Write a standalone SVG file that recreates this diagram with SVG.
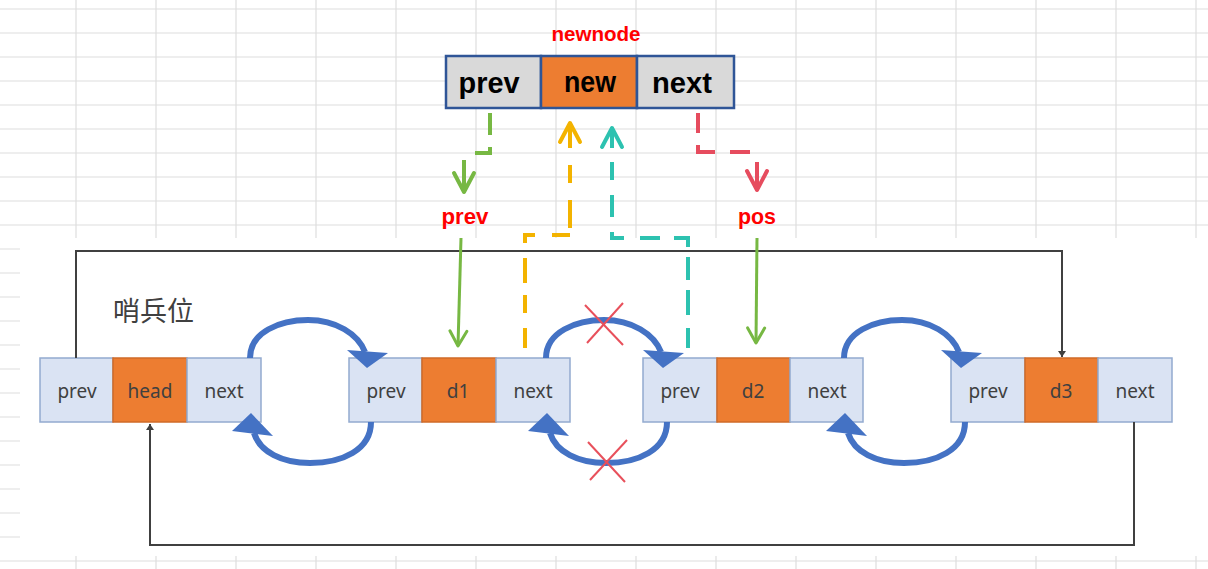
<svg xmlns="http://www.w3.org/2000/svg" width="1208" height="569" viewBox="0 0 1208 569">
<style>
.grid line{stroke:#dedede;stroke-width:1.2}
.cell{fill:#DAE3F3;stroke:#93AACF;stroke-width:1.5}
.data{fill:#ED7D31;stroke:#CF6B28;stroke-width:1.5}
.lbl{font-family:"Noto Sans","Noto Sans CJK SC",sans-serif;font-size:19px;fill:#404040;text-anchor:middle}
.tcell{fill:#D9D9D9;stroke:#2F5597;stroke-width:2.5}
.tdata{fill:#ED7D31;stroke:#2F5597;stroke-width:2.5}
.tlbl{font-family:"Liberation Sans",Arial,sans-serif;font-weight:bold;font-size:30px;fill:#000;text-anchor:middle}
.red{font-family:"Liberation Sans",Arial,sans-serif;font-weight:bold;fill:#FF0000;text-anchor:middle}
.blue{fill:none;stroke:#4472C4;stroke-width:6}
.bhead{fill:#4472C4}
.blk{fill:none;stroke:#404040;stroke-width:2}
.dash{fill:none;stroke-width:4}
.cross{stroke:#E8505B;stroke-width:2}
</style>
<defs>
<marker id="mblk" markerUnits="userSpaceOnUse" markerWidth="8" markerHeight="8" refX="6" refY="4" orient="auto"><path d="M0,0 L6,4 L0,8 z" fill="#404040"/></marker>
<marker id="mgreen" markerUnits="userSpaceOnUse" viewBox="-22 -14 26 28" markerWidth="26" markerHeight="28" refX="0" refY="0" orient="auto" overflow="visible"><path d="M-19,-10 L0,0 L-19,10" fill="none" stroke="#77B843" stroke-width="4" stroke-linecap="round" stroke-linejoin="round"/></marker>
<marker id="mgreen2" markerUnits="userSpaceOnUse" viewBox="-22 -14 26 28" markerWidth="26" markerHeight="28" refX="0" refY="0" orient="auto" overflow="visible"><path d="M-15,-8.5 L0,0 L-15,8.5" fill="none" stroke="#77B843" stroke-width="3" stroke-linecap="round" stroke-linejoin="round"/></marker>
<marker id="mred" markerUnits="userSpaceOnUse" viewBox="-22 -14 26 28" markerWidth="26" markerHeight="28" refX="0" refY="0" orient="auto" overflow="visible"><path d="M-19,-10 L0,0 L-19,10" fill="none" stroke="#E64C5E" stroke-width="4" stroke-linecap="round" stroke-linejoin="round"/></marker>
<marker id="myellow" markerUnits="userSpaceOnUse" viewBox="-22 -14 26 28" markerWidth="26" markerHeight="28" refX="0" refY="0" orient="auto" overflow="visible"><path d="M-19,-10 L0,0 L-19,10" fill="none" stroke="#F3B300" stroke-width="4" stroke-linecap="round" stroke-linejoin="round"/></marker>
<marker id="mteal" markerUnits="userSpaceOnUse" viewBox="-22 -14 26 28" markerWidth="26" markerHeight="28" refX="0" refY="0" orient="auto" overflow="visible"><path d="M-19,-10 L0,0 L-19,10" fill="none" stroke="#2DC2B0" stroke-width="4" stroke-linecap="round" stroke-linejoin="round"/></marker>
</defs>
<rect width="1208" height="569" fill="#fff"/>
<g class="grid">
<line x1="76" y1="0" x2="76" y2="569"/><line x1="156" y1="0" x2="156" y2="569"/><line x1="236" y1="0" x2="236" y2="569"/><line x1="316" y1="0" x2="316" y2="569"/><line x1="396" y1="0" x2="396" y2="569"/><line x1="476" y1="0" x2="476" y2="569"/><line x1="556" y1="0" x2="556" y2="569"/><line x1="636" y1="0" x2="636" y2="569"/><line x1="716" y1="0" x2="716" y2="569"/><line x1="796" y1="0" x2="796" y2="569"/><line x1="876" y1="0" x2="876" y2="569"/><line x1="956" y1="0" x2="956" y2="569"/><line x1="1036" y1="0" x2="1036" y2="569"/><line x1="1116" y1="0" x2="1116" y2="569"/><line x1="1196" y1="0" x2="1196" y2="569"/>
<line x1="0" y1="9" x2="1208" y2="9"/><line x1="0" y1="33" x2="1208" y2="33"/><line x1="0" y1="57" x2="1208" y2="57"/><line x1="0" y1="81" x2="1208" y2="81"/><line x1="0" y1="105" x2="1208" y2="105"/><line x1="0" y1="129" x2="1208" y2="129"/><line x1="0" y1="153" x2="1208" y2="153"/><line x1="0" y1="177" x2="1208" y2="177"/><line x1="0" y1="201" x2="1208" y2="201"/><line x1="0" y1="225" x2="1208" y2="225"/><line x1="0" y1="249" x2="1208" y2="249"/><line x1="0" y1="273" x2="1208" y2="273"/><line x1="0" y1="297" x2="1208" y2="297"/><line x1="0" y1="321" x2="1208" y2="321"/><line x1="0" y1="345" x2="1208" y2="345"/><line x1="0" y1="369" x2="1208" y2="369"/><line x1="0" y1="393" x2="1208" y2="393"/><line x1="0" y1="417" x2="1208" y2="417"/><line x1="0" y1="441" x2="1208" y2="441"/><line x1="0" y1="465" x2="1208" y2="465"/><line x1="0" y1="489" x2="1208" y2="489"/><line x1="0" y1="513" x2="1208" y2="513"/><line x1="0" y1="537" x2="1208" y2="537"/><line x1="0" y1="561" x2="1208" y2="561"/>
</g>
<rect x="20" y="238" width="1188" height="318" fill="#fff"/>

<text x="113" y="321" font-family="'Noto Sans CJK SC',sans-serif" font-size="27" fill="#404040">哨兵位</text>

<g id="newnode">
<text class="red" x="596" y="41" font-size="20" textLength="89" lengthAdjust="spacingAndGlyphs">newnode</text>
<rect class="tcell" x="446" y="56" width="95" height="52"/>
<rect class="tdata" x="541" y="56" width="96" height="52"/>
<rect class="tcell" x="637" y="56" width="97" height="52"/>
<text class="tlbl" x="489" y="93" textLength="61" lengthAdjust="spacingAndGlyphs">prev</text>
<text class="tlbl" x="590" y="92" textLength="52" lengthAdjust="spacingAndGlyphs">new</text>
<text class="tlbl" x="682" y="93" textLength="60" lengthAdjust="spacingAndGlyphs">next</text>
</g>

<g id="label-prev"><text class="red" x="465" y="224" font-size="22" textLength="47" lengthAdjust="spacingAndGlyphs">prev</text></g>
<g id="label-pos"><text class="red" x="757" y="224" font-size="22" textLength="38" lengthAdjust="spacingAndGlyphs">pos</text></g>

<g id="node-head">
<rect class="cell" x="40" y="358" width="73" height="64"/>
<rect class="data" x="113" y="358" width="74" height="64"/>
<rect class="cell" x="187" y="358" width="74" height="64"/>
<text class="lbl" x="77" y="398">prev</text><text class="lbl" x="150" y="398">head</text><text class="lbl" x="224" y="398">next</text>
</g>
<g id="node-d1">
<rect class="cell" x="349" y="358" width="73" height="64"/>
<rect class="data" x="422" y="358" width="74" height="64"/>
<rect class="cell" x="496" y="358" width="74" height="64"/>
<text class="lbl" x="386" y="398">prev</text><text class="lbl" x="458" y="398">d1</text><text class="lbl" x="533" y="398">next</text>
</g>
<g id="node-d2">
<rect class="cell" x="643" y="358" width="74" height="64"/>
<rect class="data" x="717" y="358" width="73" height="64"/>
<rect class="cell" x="790" y="358" width="73" height="64"/>
<text class="lbl" x="680" y="398">prev</text><text class="lbl" x="753" y="398">d2</text><text class="lbl" x="827" y="398">next</text>
</g>
<g id="node-d3">
<rect class="cell" x="951" y="358" width="74" height="64"/>
<rect class="data" x="1025" y="358" width="73" height="64"/>
<rect class="cell" x="1098" y="358" width="74" height="64"/>
<text class="lbl" x="988" y="398">prev</text><text class="lbl" x="1061" y="398">d3</text><text class="lbl" x="1135" y="398">next</text>
</g>

<g id="connectors">
<path class="blk" d="M76 358 V251 H1062 V357" marker-end="url(#mblk)"/>
<path class="blk" d="M1134 422 V545 H150 V424" marker-end="url(#mblk)"/>

<g id="blue-arcs">
<path class="blue" d="M250 358 C250 332 280 320 308 320 C336 320 358 334 365 352"/>
<polygon class="bhead" points="347,350 388,353 367,368"/>
<path class="blue" d="M371 422 C371 450 342 463 310 463 C282 463 260 452 254 433"/>
<polygon class="bhead" points="232,431 273,436 251,413"/>
<g transform="translate(296,0)">
<path class="blue" d="M250 358 C250 332 280 320 308 320 C336 320 358 334 365 352"/>
<polygon class="bhead" points="347,350 388,353 367,368"/>
<path class="blue" d="M371 422 C371 450 342 463 310 463 C282 463 260 452 254 433"/>
<polygon class="bhead" points="232,431 273,436 251,413"/>
</g>
<g transform="translate(594,0)">
<path class="blue" d="M250 358 C250 332 280 320 308 320 C336 320 358 334 365 352"/>
<polygon class="bhead" points="347,350 388,353 367,368"/>
<path class="blue" d="M371 422 C371 450 342 463 310 463 C282 463 260 452 254 433"/>
<polygon class="bhead" points="232,431 273,436 251,413"/>
</g>
</g>

<path class="dash" stroke="#77B843" stroke-dasharray="22 12 21 18 40" d="M490 113 V153 H464 V192" marker-end="url(#mgreen)"/>
<path class="dash" stroke="#E64C5E" stroke-dasharray="20 12 24 15 20 17 40" d="M698 113 V152 H757 V190" marker-end="url(#mred)"/>
<path class="dash" stroke="#F3B300" stroke-dasharray="0 2 20 15 18 12 25 15 18 17 18 7 28 17 18 17 30" d="M525 350 V235 H570 V123" marker-end="url(#myellow)"/>
<path class="dash" stroke="#2DC2B0" stroke-dasharray="0 2 20 13 25 10 23 10 23 14 20 16 18 15 22 15 18 14 25" d="M688 350 V238 H612 V128" marker-end="url(#mteal)"/>

<path fill="none" stroke="#77B843" stroke-width="3" d="M461 238 L458 346" marker-end="url(#mgreen2)"/>
<path fill="none" stroke="#77B843" stroke-width="3" d="M757 238 L756 343" marker-end="url(#mgreen2)"/>

<g id="crosses">
<line class="cross" x1="585" y1="305" x2="623" y2="345"/><line class="cross" x1="623" y1="303" x2="587" y2="343"/>
<line class="cross" x1="588" y1="442" x2="625" y2="482"/><line class="cross" x1="627" y1="440" x2="590" y2="480"/>
</g>
</g>
</svg>
